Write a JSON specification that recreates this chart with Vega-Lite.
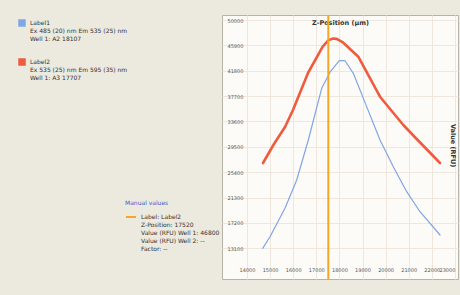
{
  "$schema": "https://vega.github.io/schema/vega-lite/v6.json",
  "width": 236,
  "height": 264,
  "autosize": {"type": "none"},
  "padding": {"left": 222, "top": 15, "right": 2, "bottom": 16},
  "background": "#ECE9DF",
  "config": {
    "view": {"fill": "#FDFBF8", "stroke": "#B8B2A6", "strokeWidth": 1},
    "font": "DejaVu Sans"
  },
  "datasets": {
    "scan": [
      {"label": "Label1", "z": 14680, "value": 13100},
      {"label": "Label1", "z": 14996, "value": 14975},
      {"label": "Label1", "z": 15645, "value": 19565},
      {"label": "Label1", "z": 16152, "value": 24139},
      {"label": "Label1", "z": 16654, "value": 30605},
      {"label": "Label1", "z": 17234, "value": 38961},
      {"label": "Label1", "z": 17600, "value": 41600},
      {"label": "Label1", "z": 17996, "value": 43422},
      {"label": "Label1", "z": 18242, "value": 43422},
      {"label": "Label1", "z": 18602, "value": 41385},
      {"label": "Label1", "z": 19180, "value": 36000},
      {"label": "Label1", "z": 19758, "value": 30605},
      {"label": "Label1", "z": 20333, "value": 26289},
      {"label": "Label1", "z": 20913, "value": 22249},
      {"label": "Label1", "z": 21489, "value": 19016},
      {"label": "Label1", "z": 22355, "value": 15250},
      {"label": "Label2", "z": 14693, "value": 26887},
      {"label": "Label2", "z": 15169, "value": 29958},
      {"label": "Label2", "z": 15645, "value": 32706},
      {"label": "Label2", "z": 15991, "value": 35453},
      {"label": "Label2", "z": 16641, "value": 41434},
      {"label": "Label2", "z": 17277, "value": 45684},
      {"label": "Label2", "z": 17520, "value": 46700},
      {"label": "Label2", "z": 17707, "value": 47000},
      {"label": "Label2", "z": 17883, "value": 46950},
      {"label": "Label2", "z": 18169, "value": 46331},
      {"label": "Label2", "z": 18818, "value": 44068},
      {"label": "Label2", "z": 19758, "value": 37603},
      {"label": "Label2", "z": 20766, "value": 33029},
      {"label": "Label2", "z": 21346, "value": 30766},
      {"label": "Label2", "z": 22355, "value": 26887}
    ],
    "manual": [
      {"marker": "Manual values", "label": "Label2", "z": 17520, "value": 46800}
    ]
  },
  "encoding": {
    "x": {
      "field": "z",
      "type": "quantitative",
      "scale": {"domain": [12918, 23134], "nice": false, "zero": false},
      "axis": {
        "orient": "bottom",
        "values": [14000, 15000, 16000, 17000, 18000, 19000, 20000, 21000, 22000, 23000],
        "format": "d",
        "ticks": false,
        "domain": false,
        "grid": true,
        "gridColor": "#EFE7DE",
        "labelPadding": -12,
        "labelFontSize": 5,
        "labelColor": "#555555",
        "labelFlush": 10,
        "labelOverlap": false,
        "title": "Z-Position (µm)",
        "titleX": 118,
        "titleY": -257,
        "titleBaseline": "middle",
        "titleFontSize": 6.5,
        "titleFontWeight": "bold",
        "titleColor": "#333333"
      }
    }
  },
  "layer": [
    {
      "data": {"name": "scan"},
      "mark": {"type": "line", "strokeJoin": "round", "strokeCap": "round"},
      "encoding": {
        "y": {
          "field": "value",
          "type": "quantitative",
          "scale": {"domain": [8140, 50810], "nice": false, "zero": false},
          "axis": {
            "orient": "left",
            "values": [13100, 17200, 21300, 25400, 29500, 33600, 37700, 41800, 45900, 50000],
            "format": "d",
            "ticks": false,
            "domain": false,
            "grid": true,
            "gridColor": "#EFE7DE",
            "labelAlign": "left",
            "labelPadding": -5,
            "labelFontSize": 5,
            "labelColor": "#555555",
            "labelFlush": false,
            "labelOverlap": false,
            "title": "Value (RFU)",
            "titleAngle": 90,
            "titleX": 230,
            "titleY": 130,
            "titleAlign": "center",
            "titleBaseline": "middle",
            "titleFontSize": 6.5,
            "titleFontWeight": "bold",
            "titleColor": "#333333"
          }
        },
        "color": {
          "field": "label",
          "type": "nominal",
          "scale": {"domain": ["Label1", "Label2"], "range": ["#7FA6E6", "#EF5B3F"]},
          "legend": {
            "orient": "none",
            "legendX": -204,
            "legendY": 4,
            "title": null,
            "symbolType": "square",
            "symbolSize": 12,
            "symbolStrokeWidth": 4,
            "labelFontSize": 6,
            "labelColor": "#333333",
            "rowPadding": 10,
            "labelLimit": 200,
            "labelExpr": "datum.label == 'Label1' ? ['Label1', 'Ex 485 (20) nm Em 535 (25) nm', 'Well 1: A2     18107'] : ['Label2', 'Ex 535 (25) nm Em 595 (35) nm', 'Well 1: A3     17707']"
          }
        },
        "strokeWidth": {
          "field": "label",
          "type": "nominal",
          "scale": {"domain": ["Label1", "Label2"], "range": [1.2, 2.6]},
          "legend": null
        }
      }
    },
    {
      "data": {"name": "manual"},
      "mark": {"type": "rule", "strokeWidth": 2},
      "encoding": {
        "color": {
          "field": "marker",
          "type": "nominal",
          "scale": {"range": ["#F5A623"]},
          "legend": {
            "orient": "none",
            "legendX": -97,
            "legendY": 185,
            "title": "Manual values",
            "titleColor": "#3A5FCD",
            "titleFontSize": 6,
            "titleFontWeight": "normal",
            "labelFontSize": 6,
            "labelColor": "#333333",
            "labelLimit": 200,
            "symbolStrokeWidth": 2,
            "labelExpr": "['Label: Label2', 'Z-Position: 17520', 'Value (RFU) Well 1: 46800', 'Value (RFU) Well 2: --', 'Factor: --']"
          }
        }
      }
    }
  ],
  "resolve": {"scale": {"color": "independent"}}
}
